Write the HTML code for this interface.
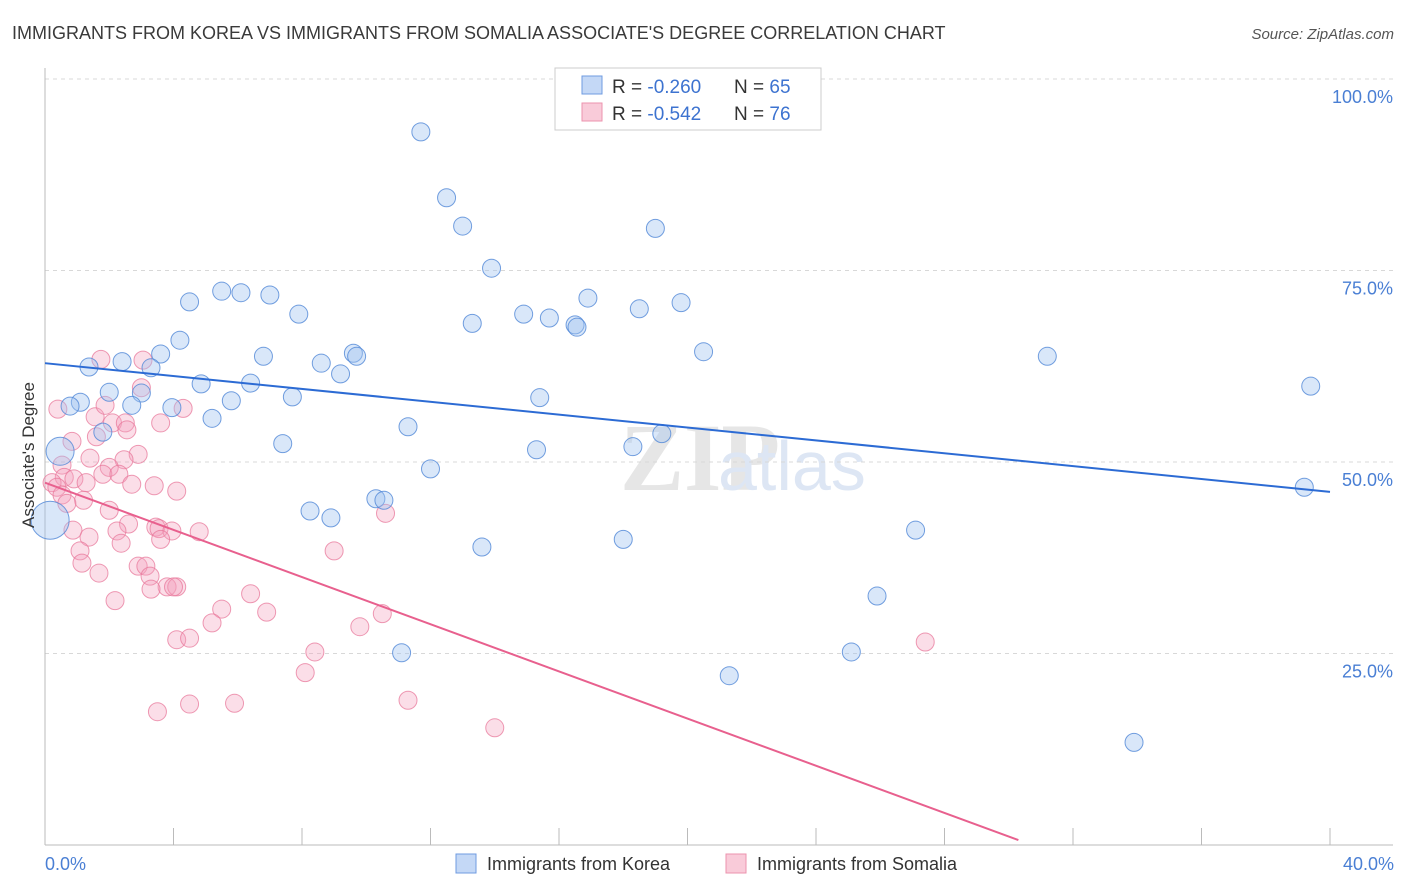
<!DOCTYPE html>
<html><head><meta charset="utf-8"><style>
body{margin:0;background:#fff;font-family:"Liberation Sans",sans-serif;}
svg{display:block}
</style></head><body>
<svg id="chart" width="1406" height="892" xmlns="http://www.w3.org/2000/svg">
<text x="12" y="39" font-size="18" fill="#3a3a3a">IMMIGRANTS FROM KOREA VS IMMIGRANTS FROM SOMALIA ASSOCIATE'S DEGREE CORRELATION CHART</text>
<text x="1394" y="39" font-size="15" fill="#555" text-anchor="end" font-style="italic">Source: ZipAtlas.com</text>
<text x="620" y="490" font-size="96" fill="#e6e6e6" font-family="Liberation Serif" font-weight="bold">ZIP</text>
<text x="718" y="490" font-size="70" fill="#dde6f4">atlas</text>
<g id="grid"></g>
<g id="axes"></g>
<g id="pts"></g>
<g id="lines"></g>
<text transform="translate(34,455) rotate(-90)" font-size="17" fill="#333" text-anchor="middle">Associate's Degree</text>
<text x="45" y="870" font-size="18" fill="#4a7fd4">0.0%</text>
<text x="1394" y="870" font-size="18" fill="#4a7fd4" text-anchor="end">40.0%</text>
<g>
<rect x="555" y="68" width="266" height="62" fill="#fff" stroke="#ccc"/>
<rect x="582" y="76" width="20" height="18" fill="#c4d8f6" stroke="#6f9be0"/>
<rect x="582" y="103" width="20" height="18" fill="#f9cbd9" stroke="#ec93ae"/>
<text x="612" y="93" font-size="19" fill="#333">R = <tspan fill="#3d73d0">-0.260</tspan><tspan x="734">N = </tspan><tspan fill="#3d73d0">65</tspan></text>
<text x="612" y="120" font-size="19" fill="#333">R = <tspan fill="#3d73d0">-0.542</tspan><tspan x="734">N = </tspan><tspan fill="#3d73d0">76</tspan></text>
</g>
<g>
<rect x="456" y="854" width="20" height="19" fill="#c4d8f6" stroke="#6f9be0"/>
<text x="487" y="870" font-size="18" fill="#333">Immigrants from Korea</text>
<rect x="726" y="854" width="20" height="19" fill="#f9cbd9" stroke="#ec93ae"/>
<text x="757" y="870" font-size="18" fill="#333">Immigrants from Somalia</text>
</g>
</svg>
<script>
const yTicks=[25,50,75,100];
const yTickLabels=["25.0%","50.0%","75.0%","100.0%"];
const xTicks=[0,4,8,12,16,20,24,28,32,36,40];
const koreaX=[11.7,12.5,13.0,19.0,13.9,5.5,6.1,7.0,4.5,16.9,18.5,19.8,7.9,13.3,14.9,15.7,16.5,16.56,4.2,3.6,9.6,9.7,6.8,20.5,31.2,2.4,1.37,3.3,8.6,9.2,4.86,6.4,39.4,2.0,3.0,7.7,5.8,15.4,1.1,0.78,2.7,3.95,5.2,1.8,11.3,19.2,7.4,15.3,18.3,0.47,12.0,10.3,10.55,39.2,8.25,8.9,0.16,27.1,13.6,18.0,25.9,11.1,25.1,21.3,33.9];
const koreaY=[93.1,84.5,80.8,80.5,75.3,72.3,72.1,71.8,70.9,71.4,70.0,70.8,69.3,68.1,69.3,68.8,67.9,67.6,65.9,64.1,64.2,63.8,63.8,64.4,63.8,63.1,62.4,62.3,62.9,61.5,60.2,60.3,59.9,59.1,59.0,58.5,58.0,58.4,57.8,57.3,57.4,57.1,55.7,53.9,54.6,53.7,52.4,51.6,52.0,51.4,49.1,45.2,45.0,46.7,43.6,42.7,42.4,41.1,38.9,39.9,32.5,25.1,25.2,22.1,13.4];
const koreaBig=[49,56];
const somaliaX=[1.74,3.05,3.0,0.4,1.56,1.87,2.1,2.5,2.55,3.6,4.3,1.6,0.84,2.9,2.46,1.4,0.53,2.0,1.8,2.3,0.6,0.9,0.22,0.37,1.28,2.7,3.4,4.1,0.53,1.2,0.68,2.0,10.6,2.6,3.45,3.55,3.95,4.8,2.24,0.87,1.37,3.6,2.37,1.09,9.0,1.15,2.9,3.14,3.27,1.68,3.8,4.1,4.0,3.3,6.4,2.18,5.5,6.9,10.5,5.2,9.8,4.1,4.5,27.4,8.4,8.1,3.5,4.5,5.9,11.3,14.0];
const somaliaY=[63.4,63.3,59.7,56.9,55.9,57.4,55.1,55.1,54.2,55.1,57.0,53.3,52.7,51.0,50.3,50.5,49.6,49.3,48.4,48.4,48.0,47.8,47.3,46.7,47.3,47.1,46.9,46.2,45.7,45.0,44.6,43.7,43.3,41.9,41.5,41.3,41.0,40.9,41.0,41.1,40.2,39.9,39.4,38.4,38.4,36.8,36.4,36.4,35.1,35.5,33.7,33.7,33.7,33.4,32.8,31.9,30.8,30.4,30.2,29.0,28.5,26.8,27.0,26.5,25.2,22.5,17.4,18.4,18.5,18.9,15.3];
const trendKorea=[62.9,46.1];
const trendSomalia=[47.3,0.65,30.3];
const NS="http://www.w3.org/2000/svg";
const X=v=>45+v/40*1285, Y=v=>845-v/100*766;
function mk(t,a,p){const e=document.createElementNS(NS,t);for(const k in a)e.setAttribute(k,a[k]);p.appendChild(e);return e;}
const grid=document.getElementById('grid'),axes=document.getElementById('axes'),pts=document.getElementById('pts'),lines=document.getElementById('lines');
yTicks.forEach((t,i)=>{
 const l=mk('line',{x1:45,x2:1393,y1:Y(t),y2:Y(t),stroke:'#d8d8d8','stroke-dasharray':'4,4'},grid);
 
 
 const tx=mk('text',{x:1393,y:Y(t)+24,'font-size':18,fill:'#4a7fd4','text-anchor':'end'},grid);
 tx.textContent=yTickLabels[i];
 
 
});
const ya=mk('line',{x1:45,x2:45,y1:68,y2:845,stroke:'#bbb'},axes);


const xa=mk('line',{x1:45,x2:1393,y1:845,y2:845,stroke:'#bbb'},axes);


xTicks.forEach(t=>{
 const l=mk('line',{x1:X(t),x2:X(t),y1:828,y2:845,stroke:'#bbb'},axes);
 
 
});
somaliaX.forEach((x,i)=>{
 const c=mk('circle',{cx:X(x),cy:Y(somaliaY[i]),r:9,fill:'rgba(244,160,188,0.35)',stroke:'rgba(232,120,155,0.75)','stroke-width':1},pts);
 
 
});
koreaX.forEach((x,i)=>{
 const r=koreaBig.indexOf(i)===0?14:(koreaBig.indexOf(i)===1?19:9);
 const c=mk('circle',{cx:X(x),cy:Y(koreaY[i]),r:r,fill:'rgba(160,195,240,0.4)',stroke:'rgba(80,135,215,0.8)','stroke-width':1},pts);
 
 
});
const tk=mk('line',{x1:X(0),y1:Y(trendKorea[0]),x2:X(40),y2:Y(trendKorea[1]),stroke:'#2c6bd4','stroke-width':2},lines);


const ts=mk('line',{x1:X(0),y1:Y(trendSomalia[0]),x2:X(trendSomalia[2]),y2:Y(trendSomalia[1]),stroke:'#e8608e','stroke-width':2},lines);


</script>
</body></html>
